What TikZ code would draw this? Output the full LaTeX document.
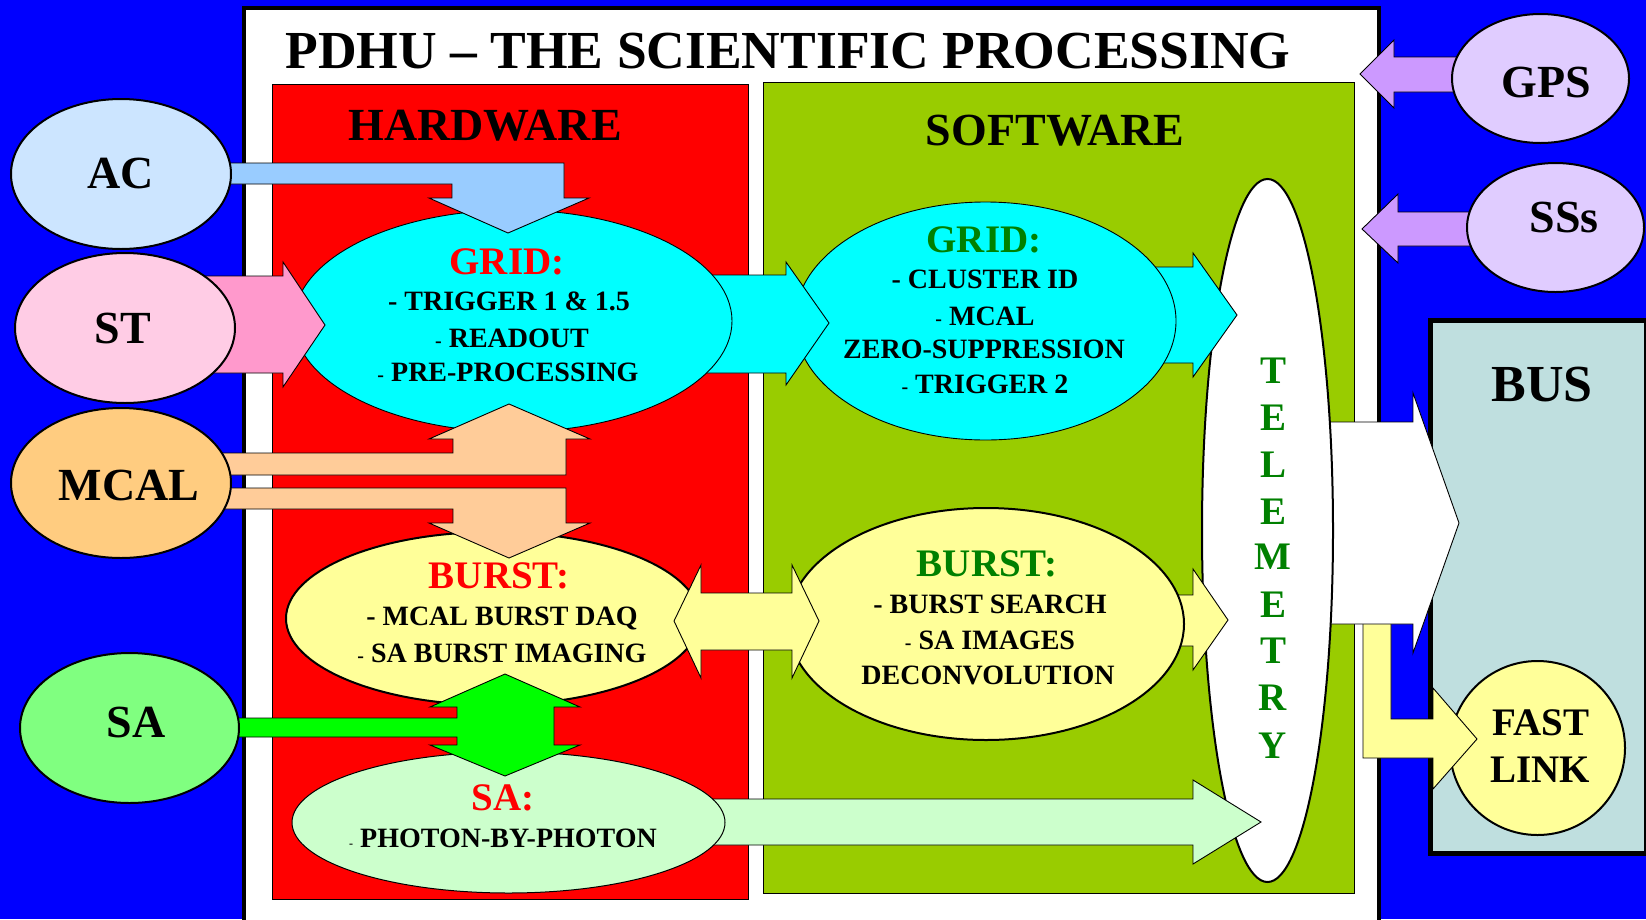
\documentclass[tikz,border=0pt]{standalone}
\usepackage{fontspec}
\setmainfont{Liberation Serif}
\usetikzlibrary{shapes.geometric}
\definecolor{bgblue}{HTML}{0000FF}
\definecolor{hwred}{HTML}{FF0000}
\definecolor{swgreen}{HTML}{99CC00}
\definecolor{cyanc}{HTML}{00FFFF}
\definecolor{lyellow}{HTML}{FFFF99}
\definecolor{lgreen}{HTML}{CCFFCC}
\definecolor{acfill}{HTML}{CCE5FF}
\definecolor{acarrow}{HTML}{99CCFF}
\definecolor{stfill}{HTML}{FFCCE5}
\definecolor{starrow}{HTML}{FF99CC}
\definecolor{mcalfill}{HTML}{FFCC80}
\definecolor{mcalarrow}{HTML}{FFCC99}
\definecolor{safill}{HTML}{80FF80}
\definecolor{saarrow}{HTML}{00FF00}
\definecolor{gpsfill}{HTML}{E0CCFF}
\definecolor{gpsarrow}{HTML}{CC99FF}
\definecolor{busfill}{HTML}{BFDFDF}
\definecolor{txtgreen}{HTML}{008000}
\newcommand\myfs[1]{\fontsize{#1}{#1}\selectfont\bfseries}
\newcommand\smdash{{\fontsize{20}{20}\selectfont -}\ }
\begin{document}
\begin{tikzpicture}[x=1pt,y=-1pt,
  txt/.style={anchor=base, inner sep=0pt, outer sep=0pt},
  ell/.style={ellipse, draw=black, inner sep=0pt, outer sep=0pt},
  blk/.style={draw=black, line width=0.9pt, line join=miter}]
\useasboundingbox (0,0) rectangle (1646,919);
\clip (0,0) rectangle (1646,919);
\fill[bgblue] (0,0) rectangle (1646,919);
% frames
\draw[fill=white, line width=4pt] (244,8) rectangle (1379,960);
\draw[fill=hwred, line width=0.8pt] (272,84) rectangle (748,899);
\draw[fill=swgreen, line width=0.8pt] (763,82) rectangle (1354,893);
\draw[fill=busfill, line width=5pt] (1430,320) rectangle (1646,853);
% fast link
\node[ell, line width=2pt, fill=lyellow, minimum width=175pt, minimum height=174pt] (fast) at (1537.5,748) {};
\draw[blk, fill=lyellow] (1363,615) -- (1391,615) -- (1391,719) -- (1433,719) -- (1433,688) -- (1477,739) -- (1433,789) -- (1433,758) -- (1363,758) -- cycle;
\draw[blk, fill=white] (1300,422) -- (1413,422) -- (1413,393) -- (1459,523) -- (1413,653) -- (1413,624) -- (1300,624) -- cycle;
% telemetry
\node[ell, line width=2pt, fill=white, minimum width=131pt, minimum height=703pt] (tel) at (1267.5,530.5) {};
% software grid
\draw[blk, fill=cyanc] (1150,267) -- (1193,267) -- (1193,253) -- (1237,315) -- (1193,377) -- (1193,363) -- (1150,363) -- cycle;
\node[ell, line width=0.9pt, fill=cyanc, minimum width=381pt, minimum height=238pt] (swgrid) at (985.5,321) {};
\draw[blk, fill=cyanc] (700,275) -- (786,275) -- (786,262) -- (829,323) -- (786,385) -- (786,373) -- (700,373) -- cycle;
\node[ell, line width=0.9pt, fill=cyanc, minimum width=438pt, minimum height=222pt] (hwgrid) at (513,321) {};
% software burst
\draw[blk, fill=lyellow] (1150,595) -- (1193,595) -- (1193,569) -- (1228,620) -- (1193,670) -- (1193,646) -- (1150,646) -- cycle;
\node[ell, line width=2pt, fill=lyellow, minimum width=396pt, minimum height=232pt] (swburst) at (986,624) {};
% SA hw
\draw[blk, fill=lgreen] (700,799) -- (1193,799) -- (1193,780) -- (1261,822) -- (1193,864) -- (1193,845) -- (700,845) -- cycle;
\node[ell, line width=1pt, fill=lgreen, minimum width=433pt, minimum height=141pt] (hwsa) at (508.5,822.5) {};
\node[ell, line width=2pt, fill=lyellow, minimum width=414pt, minimum height=173pt] (hwburst) at (493,618.5) {};
% double arrow
\draw[blk, fill=lyellow] (674,621) -- (701,565) -- (701,593) -- (792,593) -- (792,565) -- (819,621) -- (792,678) -- (792,650) -- (701,650) -- (701,678) -- cycle;
% green SA arrow
\draw[blk, fill=saarrow] (200,718) -- (457,718) -- (457,707) -- (430,707) -- (505,674) -- (580,707) -- (554,707) -- (554,745) -- (580,745) -- (505,776) -- (430,745) -- (457,745) -- (457,737) -- (200,737) -- cycle;
% MCAL arrows
\draw[blk, fill=mcalarrow] (200,475) -- (566,475) -- (566,439) -- (590,439) -- (509,404) -- (429,439) -- (453,439) -- (453,453) -- (200,453) -- cycle;
\draw[blk, fill=mcalarrow] (200,488) -- (566,488) -- (566,523) -- (590,523) -- (509,558) -- (429,523) -- (453,523) -- (453,509) -- (200,509) -- cycle;
% AC arrow
\draw[blk, fill=acarrow] (200,163) -- (564,163) -- (564,198) -- (589,198) -- (508,233) -- (429,198) -- (452,198) -- (452,184) -- (200,184) -- cycle;
% ST arrow
\draw[blk, fill=starrow] (200,276) -- (283,276) -- (283,262) -- (325,325) -- (283,387) -- (283,373) -- (200,373) -- cycle;
% sources
\node[ell, line width=2pt, fill=acfill, minimum width=220pt, minimum height=150pt] (ac) at (121,174) {};
\node[ell, line width=2pt, fill=stfill, minimum width=220pt, minimum height=150pt] (st) at (125,328) {};
\node[ell, line width=2pt, fill=mcalfill, minimum width=220pt, minimum height=150pt] (mcal) at (121,483) {};
\node[ell, line width=2pt, fill=safill, minimum width=219pt, minimum height=150pt] (sa) at (129.5,728) {};
% GPS / SSs
\draw[blk, fill=gpsarrow] (1480,57) -- (1394,57) -- (1394,40) -- (1360,74) -- (1394,108) -- (1394,92) -- (1480,92) -- cycle;
\draw[blk, fill=gpsarrow] (1500,212) -- (1398,212) -- (1398,194) -- (1362,229) -- (1398,263) -- (1398,246) -- (1500,246) -- cycle;
\node[ell, line width=2pt, fill=gpsfill, minimum width=177pt, minimum height=129pt] (gps) at (1540.5,78.5) {};
\node[ell, line width=2pt, fill=gpsfill, minimum width=177pt, minimum height=129pt] (sss) at (1555.5,227.5) {};
% texts
\node[txt, font=\myfs{53.5}] (title) at (788,68) {PDHU -- THE SCIENTIFIC PROCESSING};
\node[txt, font=\myfs{46}] (hwt) at (485,140) {HARDWARE};
\node[txt, font=\myfs{46}] (swt) at (1055,145) {SOFTWARE};
\node[txt, font=\myfs{46}] (act) at (121,188) {AC};
\node[txt, font=\myfs{46}] (stt) at (123,343) {ST};
\node[txt, font=\myfs{46}] (mcalt) at (129,500) {MCAL};
\node[txt, font=\myfs{46}] (sat) at (136,737) {SA};
\node[txt, font=\myfs{46}] (gpst) at (1546,97) {GPS};
\node[txt, font=\myfs{46}] (ssst) at (1564,232) {SSs};
\node[txt, font=\myfs{52}] (bust) at (1542,401) {BUS};
\node[txt, font=\myfs{39}] (fastt) at (1541,735) {FAST};
\node[txt, font=\myfs{39}] (linkt) at (1540,782) {LINK};
% hw grid text
\node[txt, font=\myfs{39}, text=hwred] (hwg0) at (507,274) {GRID:};
\node[txt, font=\myfs{28}] (hwg1) at (509,310) {- TRIGGER 1 \& 1.5};
\node[txt, font=\myfs{28}] (hwg2) at (512,347) {\smdash READOUT};
\node[txt, font=\myfs{28}] (hwg3) at (508,381) {\smdash PRE-PROCESSING};
% sw grid text
\node[txt, font=\myfs{39}, text=txtgreen] (swg0) at (984,252) {GRID:};
\node[txt, font=\myfs{28}] (swg1) at (985,288) {- CLUSTER ID};
\node[txt, font=\myfs{28}] (swg2) at (985,325) {\smdash MCAL};
\node[txt, font=\myfs{28}] (swg3) at (984,358) {ZERO-SUPPRESSION};
\node[txt, font=\myfs{28}] (swg4) at (985,393) {\smdash TRIGGER 2};
% hw burst text
\node[txt, font=\myfs{39}, text=hwred] (hwb0) at (499,588) {BURST:};
\node[txt, font=\myfs{28}] (hwb1) at (502,625) {- MCAL BURST DAQ};
\node[txt, font=\myfs{28}] (hwb2) at (502,662) {\smdash SA BURST IMAGING};
% sw burst text
\node[txt, font=\myfs{39}, text=txtgreen] (swb0) at (987,576) {BURST:};
\node[txt, font=\myfs{28}] (swb1) at (990,613) {- BURST SEARCH};
\node[txt, font=\myfs{28}] (swb2) at (990,649) {\smdash SA IMAGES};
\node[txt, font=\myfs{28}] (swb3) at (988,684) {DECONVOLUTION};
% hw sa text
\node[txt, font=\myfs{39}, text=hwred] (hws0) at (503,810) {SA:};
\node[txt, font=\myfs{28}] (hws1) at (503,847) {{\fontsize{12}{12}\selectfont -}\ PHOTON-BY-PHOTON};
% telemetry letters
\foreach \l/\y [count=\i] in {T/383,E/430,L/477,E/524,M/569,E/617,T/663,R/710,Y/758}
  \node[txt, font=\myfs{39}, text=txtgreen] (tl\i) at (1273,\y) {\l};
\end{tikzpicture}
\end{document}
